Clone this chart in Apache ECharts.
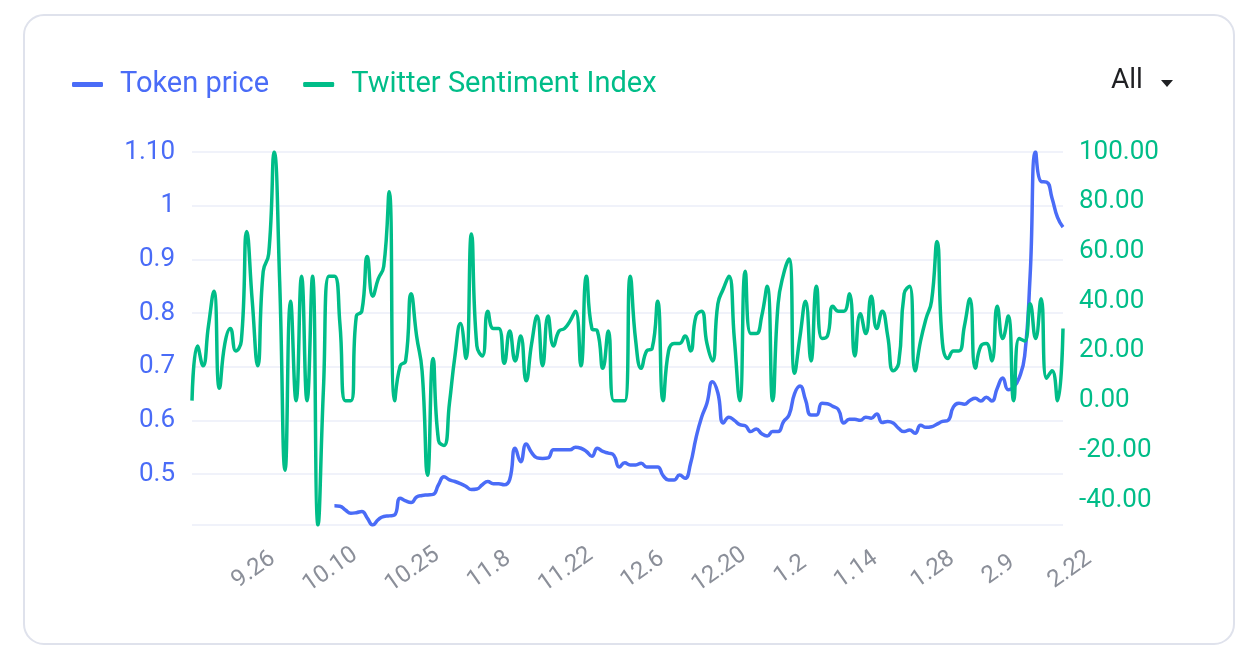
<!DOCTYPE html>
<html>
<head>
<meta charset="utf-8">
<script src="https://cdn.jsdelivr.net/npm/echarts@6/dist/echarts.min.js"></script>
<style>
html,body{margin:0;padding:0;background:#fff;}
#chart{width:1256px;height:664px;}
</style>
</head>
<body>
<div id="chart"></div>
<script>
// Daily categories 9.16 -> 2.22
const monthSpans = [[9,16,30],[10,1,31],[11,1,30],[12,1,31],[1,1,31],[2,1,22]];
const categories = [];
monthSpans.forEach(function(m){ for (let d = m[1]; d <= m[2]; d++) categories.push(m[0] + '.' + d); });

const shownLabels = ['9.26','10.10','10.25','11.8','11.22','12.6','12.20','1.2','1.14','1.28','2.9','2.22'];

const seriesNames = ['Token price', 'Twitter Sentiment Index'];

const tokenPrice = [
  null,null,null,null,null,null,null,null,null,null,
  null,null,null,null,null,null,null,null,null,null,
  null,null,null,null,null,null,
  0.441,0.440,0.433,0.427,0.428,0.430,0.418,0.405,0.415,0.421,
  0.422,0.424,0.455,0.450,0.447,0.457,0.460,0.461,0.462,0.480,
  0.495,0.489,0.486,0.482,0.477,0.471,0.472,0.480,0.486,0.482,
  0.482,0.480,0.490,0.548,0.523,0.556,0.540,0.530,0.529,0.530,
  0.545,0.545,0.545,0.545,0.550,0.548,0.542,0.533,0.548,0.542,
  0.539,0.535,0.513,0.521,0.517,0.517,0.520,0.513,0.513,0.513,
  0.497,0.489,0.489,0.498,0.492,0.519,0.567,0.605,0.632,0.672,
  0.651,0.595,0.606,0.600,0.592,0.590,0.579,0.584,0.575,0.571,
  0.579,0.579,0.598,0.610,0.650,0.664,0.638,0.610,0.610,0.632,
  0.631,0.626,0.620,0.595,0.602,0.602,0.600,0.606,0.604,0.612,
  0.596,0.598,0.595,0.585,0.579,0.582,0.576,0.591,0.587,0.588,
  0.593,0.598,0.600,0.625,0.632,0.630,0.637,0.641,0.636,0.643,
  0.636,0.660,0.679,0.657,0.662,0.679,0.720,0.870,1.100,1.045,
  1.044,1.014,0.978,0.960
];

const sentiment = [
  0,22,14,30,44,5,23,29,20,24,
  68,40,14,52,59,100,48,-28,40,0,
  50,0,50,-50,5,50,50,31,0,0,
  34,36,58,42,49,54,84,0,14,16,
  43,26,12,-30,17,-16,-18,-1,18,31,
  17,67,22,18,36,29,29,15,28,16,
  26,8,23,34,14,34,22,28,29,32,
  36,14,50,29,28,13,28,0,0,0,
  50,24,13,20,21,40,0,20,23,23,
  26,20,34,36,23,16,39,45,50,25,
  0,52,27,27,34,46,0,39,51,57,
  11,26,40,16,46,25,26,38,36,36,
  43,18,35,27,42,29,36,26,12,15,
  43,46,12,24,33,40,64,23,17,20,
  20,30,41,13,22,23,16,38,25,34,
  0,25,24,39,25,41,9,12,0,29
];

const BLUE = '#4a6cf7';
const GREEN = '#00bd88';

const chart = echarts.init(document.getElementById('chart'), null, {renderer: 'canvas'});
chart.setOption({
  backgroundColor: '#ffffff',
  animation: false,
  graphic: [
    {type: 'rect', left: 23, top: 14, z: -10, silent: true,
     shape: {width: 1210, height: 629, r: 20},
     style: {fill: '#ffffff', stroke: '#dfe2ec', lineWidth: 2}},
    {type: 'text', left: 1111, top: 67,
     style: {text: 'All', font: '28px Roboto', fill: '#1f2023'}},
    {type: 'polygon', shape: {points: [[1161, 80], [1173, 80], [1167, 87]]},
     style: {fill: '#1f2023'}}
  ],
  legend: {
    left: 67, top: 65,
    itemWidth: 31, itemHeight: 5, itemGap: 34,
    icon: 'roundRect',
    data: seriesNames,
    textStyle: {fontFamily: 'Roboto', fontSize: 29, padding: [0, 0, 0, 12], color: 'inherit'}
  },
  grid: {left: 192, right: 193, top: 152, bottom: 139, containLabel: false, outerBoundsMode: 'none'},
  xAxis: {
    type: 'category',
    data: categories,
    boundaryGap: false,
    axisLine: {show: false},
    axisTick: {show: false},
    axisLabel: {
      interval: function(i, v){ return shownLabels.indexOf(v) >= 0; },
      rotate: 35, align: 'center', verticalAlign: 'top', margin: 35,
      color: '#8b8f99', fontFamily: 'Roboto', fontSize: 24
    },
    splitLine: {show: false}
  },
  yAxis: [
    {
      type: 'value', position: 'left', min: 'dataMin', max: 'dataMax', splitNumber: 7,
      axisLine: {show: false}, axisTick: {show: false},
      axisLabel: {
        margin: 17, color: BLUE, fontFamily: 'Roboto', fontSize: 26,
        formatter: function(v){
          if (v < 0.45) return '';
          if (Math.abs(v - 1.1) < 1e-6) return '1.10';
          return String(+v.toFixed(2));
        }
      },
      splitLine: {show: true, lineStyle: {color: '#f0f2fa', width: 2}}
    },
    {
      type: 'value', position: 'right', min: 'dataMin', max: 'dataMax', splitNumber: 7,
      axisLine: {show: false}, axisTick: {show: false},
      axisLabel: {
        margin: 16, color: GREEN, fontFamily: 'Roboto', fontSize: 26,
        formatter: function(v){ return v <= -45 ? '' : v.toFixed(2); }
      },
      splitLine: {show: false}
    }
  ],
  series: [
    {name: seriesNames[0], type: 'line', yAxisIndex: 0, data: tokenPrice, smooth: true,
     showSymbol: false, symbol: 'none', color: BLUE, lineStyle: {width: 3.5, color: BLUE}},
    {name: seriesNames[1], type: 'line', yAxisIndex: 1, data: sentiment, smooth: true,
     showSymbol: false, symbol: 'none', color: GREEN, lineStyle: {width: 3.5, color: GREEN}}
  ]
});
</script>
</body>
</html>
